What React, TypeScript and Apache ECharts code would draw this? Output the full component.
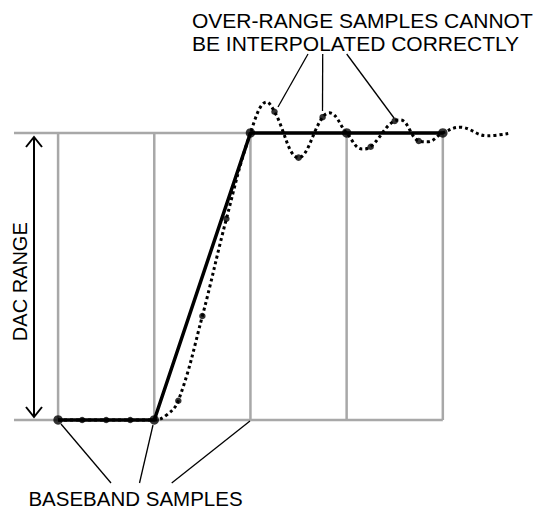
import React, { useEffect, useRef } from "react";
import * as echarts from "echarts";

// Baseband samples (solid line + big dots)
const sampleX = [0, 1, 2, 3, 4];
const sampleY = [0, 0, 1, 1, 1];

// Interpolated (4x) samples (small dots)
const interpX = [0.25, 0.5, 0.75, 1.25, 1.5, 1.75, 2.25, 2.5, 2.75, 3.25, 3.5, 3.75];
const interpY = [0, 0, 0, 0.067, 0.362, 0.701, 1.074, 0.914, 1.055, 0.952, 1.042, 0.972];

// Dotted interpolated waveform (samples, peaks and troughs)
const curveX = [0, 0.25, 0.5, 0.75, 1, 1.12, 1.25, 1.5, 1.75, 2, 2.17, 2.25, 2.5, 2.75, 2.82, 3, 3.16, 3.25, 3.5, 3.56, 3.75, 3.84, 4, 4.18, 4.46, 4.68];
const curveY = [0, 0, 0, 0, 0, 0.015, 0.067, 0.362, 0.701, 1, 1.108, 1.074, 0.914, 1.055, 1.07, 1, 0.944, 0.952, 1.042, 1.045, 0.972, 0.969, 1, 1.02, 0.99, 0.998];

// Range frame
const rangeLevels = [0, 1];
const frameStartX = -0.4585;
const frameEndX = 4;

const topLabel = ["OVER-RANGE SAMPLES CANNOT", "BE INTERPOLATED CORRECTLY"];
const bottomLabel = "BASEBAND SAMPLES";
const sideLabel = "DAC RANGE";

const FONT = "'Liberation Sans', Arial, Helvetica, sans-serif";
const GRAY = "#a8a8a8";

export default function App() {
  const ref = useRef<HTMLDivElement>(null);
  useEffect(() => {
    if (!ref.current) return;
    const chart = echarts.init(ref.current, undefined, { renderer: "svg" });

    const zip = (xs: number[], ys: number[]) => xs.map((x, i) => [x, ys[i]]);

    const series: any[] = [];
    rangeLevels.forEach((lv) => {
      series.push({
        type: "line",
        data: [[frameStartX, lv], [frameEndX, lv]],
        symbol: "none",
        lineStyle: { color: GRAY, width: 2.5 },
        z: 1,
        silent: true,
      });
    });
    sampleX.forEach((sx) => {
      series.push({
        type: "line",
        data: [[sx, rangeLevels[0]], [sx, rangeLevels[1]]],
        symbol: "none",
        lineStyle: { color: GRAY, width: 2.5 },
        z: 1,
        silent: true,
      });
    });
    series.push({
      type: "line",
      data: zip(sampleX, sampleY),
      symbol: "none",
      lineStyle: { color: "#000", width: 3.5 },
      z: 3,
    });
    series.push({
      type: "line",
      data: zip(curveX, curveY),
      smooth: 0.4,
      symbol: "none",
      lineStyle: { color: "#000", width: 3, type: [3, 3] },
      z: 4,
    });
    series.push({
      type: "scatter",
      data: zip(interpX, interpY),
      symbol: "circle",
      symbolSize: 6.5,
      itemStyle: { color: "#000" },
      z: 5,
    });
    series.push({
      type: "scatter",
      data: zip(sampleX, sampleY),
      symbol: "circle",
      symbolSize: 9.5,
      itemStyle: { color: "#000" },
      z: 6,
    });

    const ln = (x1: number, y1: number, x2: number, y2: number, w: number) => ({
      type: "line",
      shape: { x1, y1, x2, y2 },
      style: { stroke: "#000", lineWidth: w },
      z: 10,
    });

    const graphic: any[] = [
      // DAC range arrow
      ln(34, 137, 34, 417, 2),
      {
        type: "polyline",
        shape: { points: [[26, 147], [34, 137], [42, 147]] },
        style: { stroke: "#000", lineWidth: 2, fill: null },
        z: 10,
      },
      {
        type: "polyline",
        shape: { points: [[26, 407], [34, 417], [42, 407]] },
        style: { stroke: "#000", lineWidth: 2, fill: null },
        z: 10,
      },
      // top callouts
      ln(308, 54, 278, 107, 1.3),
      ln(322.7, 54, 322.5, 111, 1.3),
      ln(346.7, 54, 394, 118, 1.3),
      // bottom callouts
      ln(61, 424, 111, 483, 1.3),
      ln(153, 425, 139.5, 483, 1.3),
      ln(250, 421, 171.7, 483, 1.3),
      {
        type: "text",
        x: 192,
        y: 20,
        style: {
          text: topLabel[0],
          font: `21px ${FONT}`,
          fill: "#000",
          align: "left",
          verticalAlign: "middle",
        },
        z: 10,
      },
      {
        type: "text",
        x: 192,
        y: 43,
        style: {
          text: topLabel[1],
          font: `21px ${FONT}`,
          fill: "#000",
          align: "left",
          verticalAlign: "middle",
        },
        z: 10,
      },
      {
        type: "text",
        x: 20,
        y: 281.7,
        rotation: Math.PI / 2,
        style: {
          text: sideLabel,
          font: `20px ${FONT}`,
          fill: "#000",
          align: "center",
          verticalAlign: "middle",
        },
        z: 10,
      },
      {
        type: "text",
        x: 135.5,
        y: 498.5,
        style: {
          text: bottomLabel,
          font: `20.5px ${FONT}`,
          fill: "#000",
          align: "center",
          verticalAlign: "middle",
        },
        z: 10,
      },
    ];

    chart.setOption({
      animation: false,
      backgroundColor: "#fff",
      grid: { left: 10, top: 32.5, width: 529, height: 459.2 },
      xAxis: { type: "value", min: -0.5, max: 5, show: false },
      yAxis: { type: "value", min: -0.25, max: 1.35, show: false },
      series,
      graphic,
    });
    return () => chart.dispose();
  }, []);
  return (
    <div
      ref={ref}
      style={{ position: "absolute", left: 0, top: 0, width: 540, height: 511, background: "#fff" }}
    />
  );
}
